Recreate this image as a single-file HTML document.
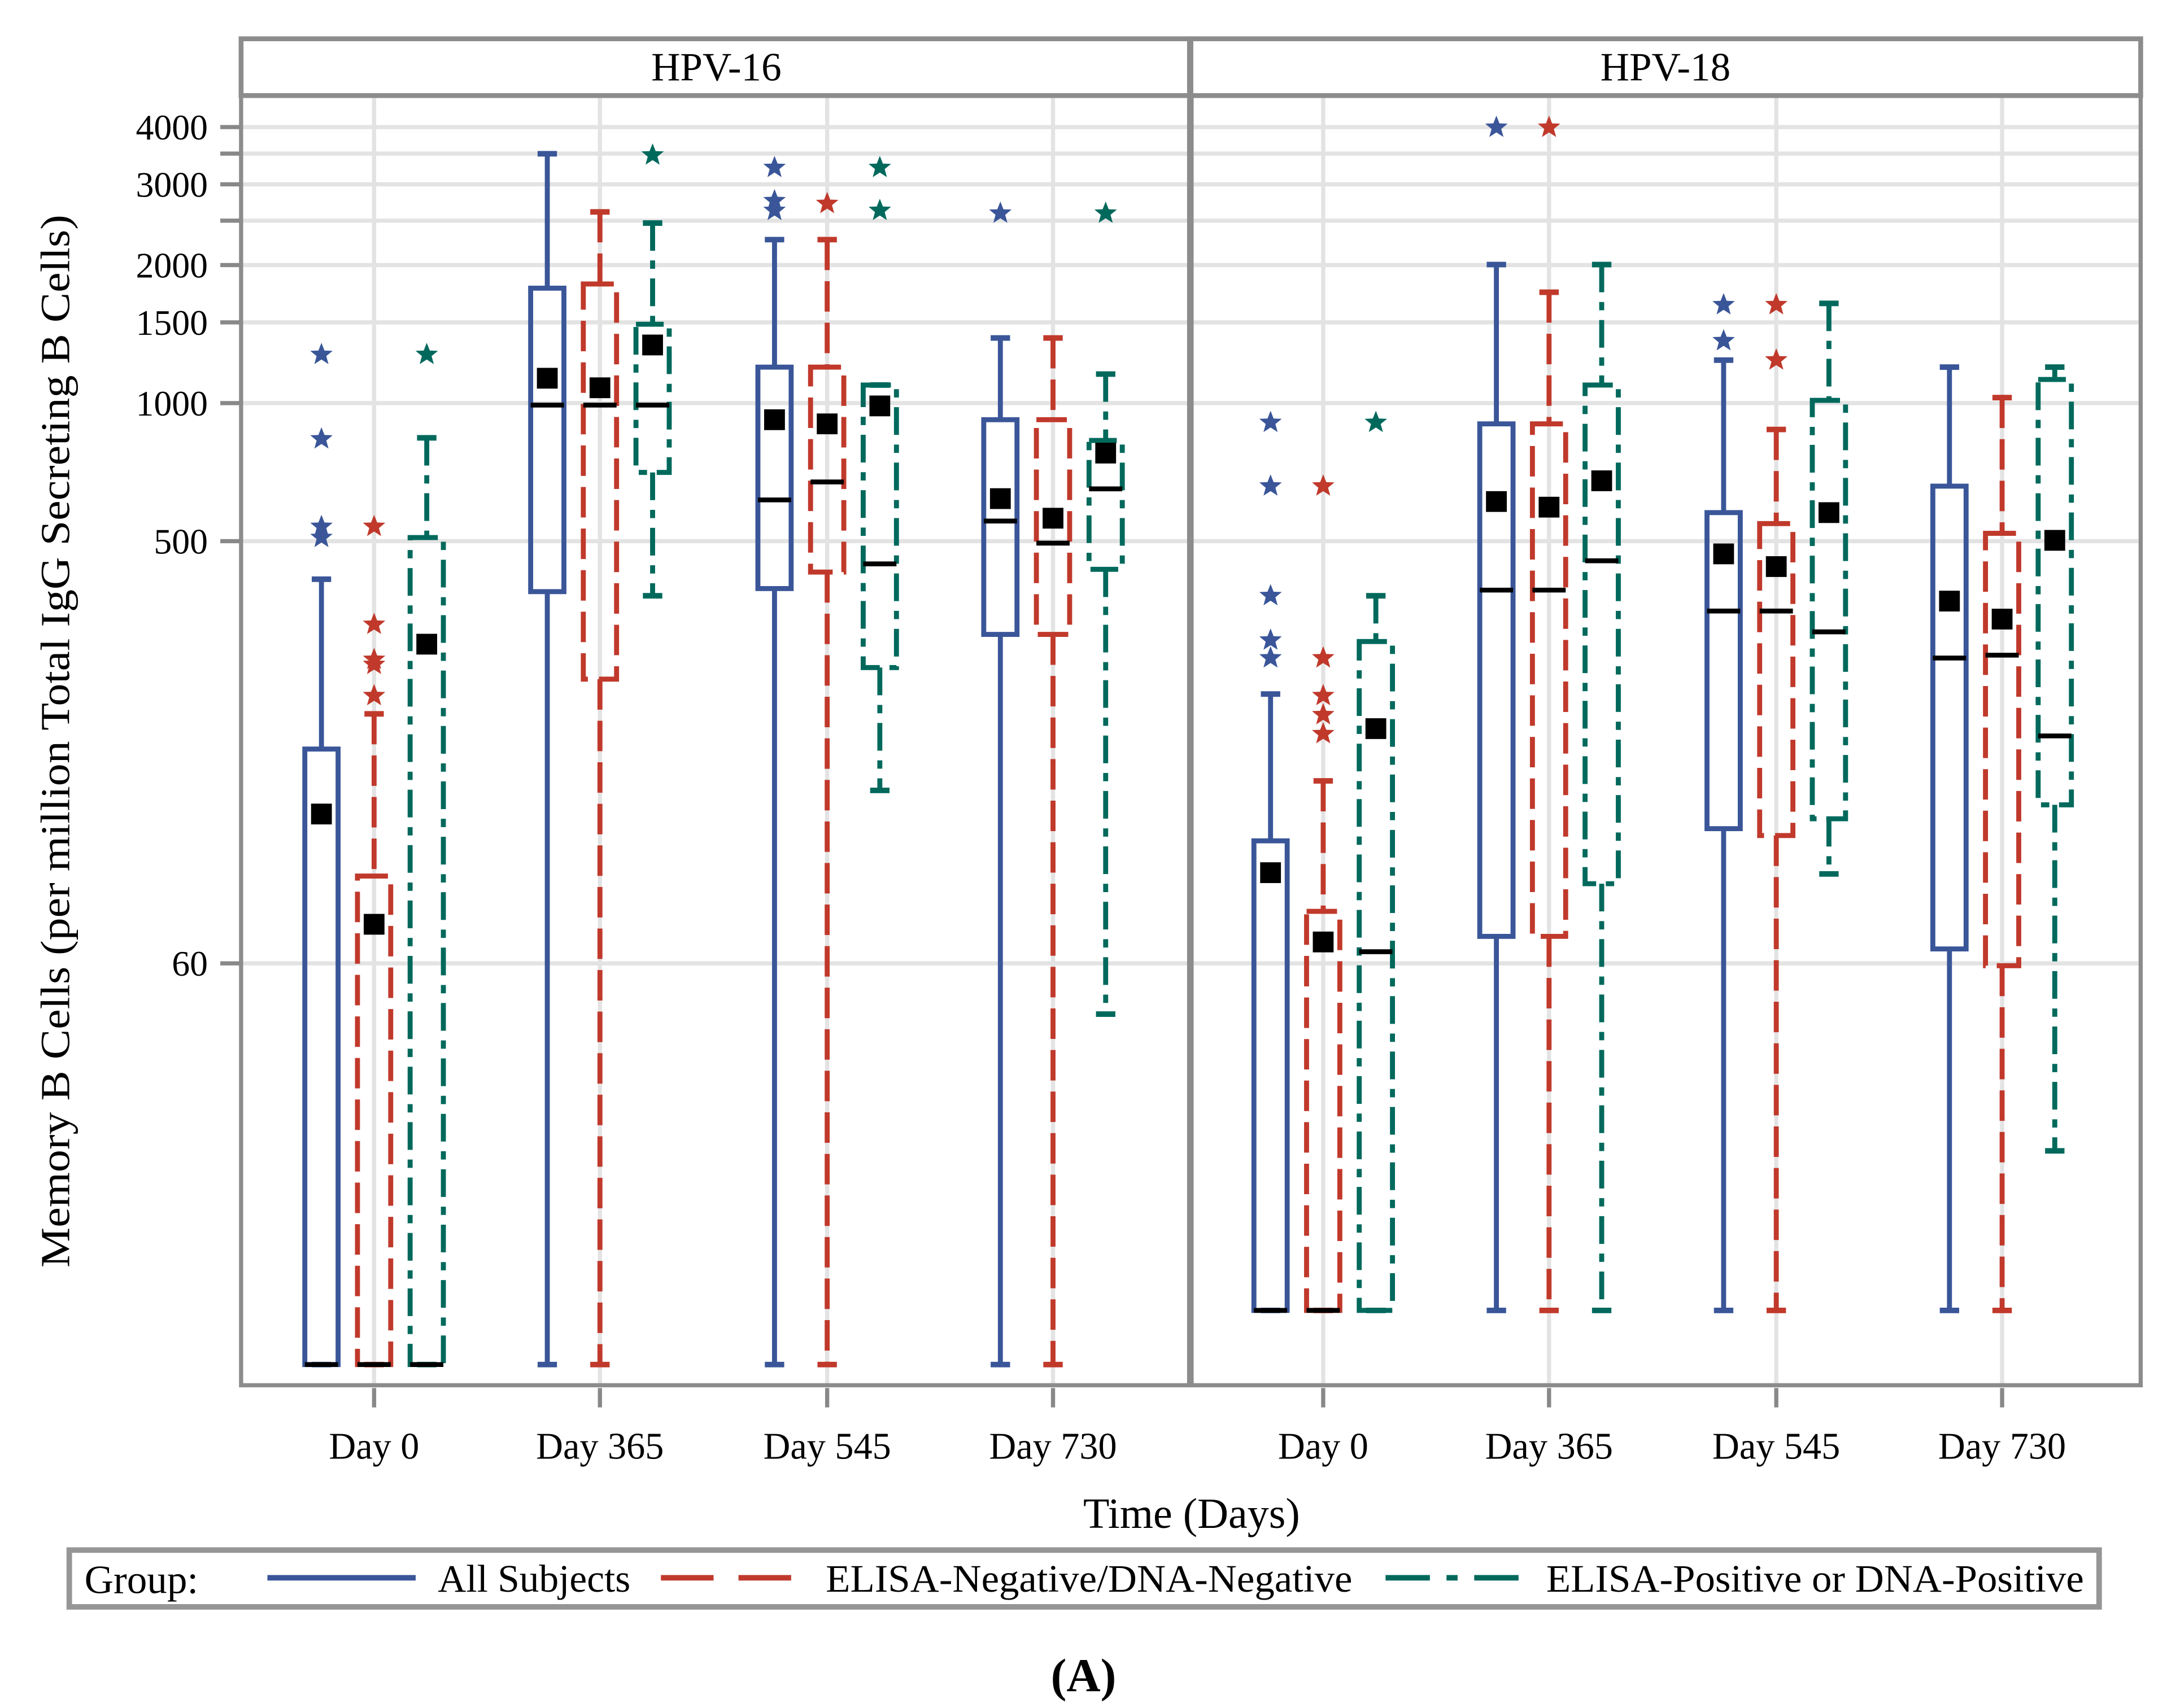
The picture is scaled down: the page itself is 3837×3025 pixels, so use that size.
<!DOCTYPE html>
<html><head><meta charset="utf-8"><style>
html,body{margin:0;padding:0;background:#fff}
svg{display:block}
text{font-family:"Liberation Serif",serif;fill:#000}
</style></head><body>
<svg id="chart" width="3837" height="3025" viewBox="0 0 1564 1233" preserveAspectRatio="none" xmlns="http://www.w3.org/2000/svg"></svg>
<script>
// ---- data (order: HPV-16 days 0,365,545,730 x groups All/Neg/Pos; then HPV-18) ----
const panels = ["HPV-16", "HPV-18"];
const days = ["Day 0", "Day 365", "Day 545", "Day 730"];
const groups = ["All Subjects", "ELISA-Negative/DNA-Negative", "ELISA-Positive or DNA-Positive"];
const yTickValues = [60, 500, 1000, 1500, 2000, 2500, 3000, 3500, 4000];
const yTickLabels = ["60", "500", "1000", "1500", "2000", "", "3000", "", "4000"];
const whiskerHigh = [413,210,840, 3498,2612,2470, 2273,2273,1095, 1387,1387,1157,
                     232,150,380, 2005,1745,2005, 1241,876,1650, 1198,1028,1198];
const q3Vals = [176,93,509, 1781,1819,1486, 1198,1198,1095, 920,920,829,
                111,77.9,302, 901,901,1095, 577,546,1014, 659,520,1126];
const medianVals = [8,8,8, 990,990,990, 615,673,446, 553,495,650,
                    10.5,10.5,63.6, 391,391,453, 352,352,317, 278,282,188];
const q1Vals = [8,8,8, 388,250,706, 394,428,265, 313,313,434,
                10.5,10.5,10.5, 68.7,68.7,89.5, 118,114,124, 64.5,59.3,133];
const whiskerLow = [8,8,8, 8,8,380, 8,8,143, 8,8,46.5,
                    10.5,10.5,10.5, 10.5,10.5,10.5, 10.5,10.5,94, 10.5,10.5,23.4];
const meanVals = [127,73,298, 1133,1080,1339, 920,901,986, 619,561,778,
                  94.6,66.8,195, 610,593,677, 469,440,577, 370,338,502];
const outlierVals = [[1276,835,538,509],[538,329,276,269,230],[1276],
                     [],[],[3474],
                     [3263,2762,2630],[2723],[3263,2630],
                     [2594],[],[2594],
                     [907,659,380,304,278],[659,278,230,209,190],[907],
                     [3993],[3993],[],
                     [1638,1367],[1638,1241],[],
                     [],[],[]];

// ---- layout ----
const NS = "http://www.w3.org/2000/svg";
const svg = document.getElementById("chart");
const colors = ["#3a5699", "#c0392b", "#00695c"];
const dashes = ["", "22 8", "20 7 6 7"];
const panelX = [174, 859];
const panelW = 686;
const plotTop = 69, plotBottom = 1000, stripTop = 28;
const dayOffset = [96, 259, 423, 586];
const groupOffset = [-38, 0, 38];
function yScale(v){ return 291 - 331*Math.log10(v/1000); }
function xScale(p, d, g){ return panelX[p] + dayOffset[d] + groupOffset[g]; }

function el(tag, attrs, parent){
  const e = document.createElementNS(NS, tag);
  for (const k in attrs) e.setAttribute(k, attrs[k]);
  (parent||svg).appendChild(e);
  return e;
}

panels.forEach((name, p) => {
  const g = el("g", {});
  
  
  yTickValues.forEach(v => {
    const gl = el("line", {x1: panelX[p], x2: panelX[p]+panelW, y1: yScale(v), y2: yScale(v), stroke: "#e3e3e3", "stroke-width": 3}, g);
    
    
  });
  days.forEach((d, i) => {
    const x = panelX[p] + dayOffset[i];
    const gl = el("line", {x1: x, x2: x, y1: plotTop, y2: plotBottom, stroke: "#e3e3e3", "stroke-width": 3}, g);
    
    
    const tk = el("line", {x1: x, x2: x, y1: plotBottom+2, y2: plotBottom+16, stroke: "#888", "stroke-width": 3}, g);
    
    
    const t = el("text", {x: x, y: 1053, "text-anchor": "middle", "font-size": 27}, g);
    t.textContent = d;
    
    
  });
  const strip = el("rect", {x: panelX[p], y: stripTop, width: panelW, height: plotTop-stripTop, fill: "#fff", stroke: "#8c8c8c", "stroke-width": 3.5}, g);
  
  
  const st = el("text", {x: panelX[p]+panelW/2, y: 58, "text-anchor": "middle", "font-size": 29}, g);
  st.textContent = name;
  
  
});

const star = "M0,-8.5 L2.2,-2.9 L8.1,-2.7 L3.5,1.1 L5.1,6.9 L0,3.6 L-5.1,6.9 L-3.5,1.1 L-8.1,-2.7 L-2.2,-2.9 Z";
for (let i = 0; i < 24; i++){
  const p = Math.floor(i/12), d = Math.floor((i%12)/3), gi = i%3;
  const x = xScale(p, d, gi);
  const c = colors[gi];
  const g = el("g", {});
  
  
  const sa = {stroke: c, "stroke-width": 3.6, fill: "none"};
  if (dashes[gi]) sa["stroke-dasharray"] = dashes[gi];
  const yq1 = yScale(q1Vals[i]), yq3 = yScale(q3Vals[i]);
  el("line", Object.assign({x1: x, x2: x, y1: yScale(whiskerHigh[i]), y2: yq3}, sa), g);
  el("line", Object.assign({x1: x, x2: x, y1: yq1, y2: yScale(whiskerLow[i])}, sa), g);
  el("line", {x1: x-7, x2: x+7, y1: yScale(whiskerHigh[i]), y2: yScale(whiskerHigh[i]), stroke: c, "stroke-width": 4}, g);
  el("line", {x1: x-7, x2: x+7, y1: yScale(whiskerLow[i]), y2: yScale(whiskerLow[i]), stroke: c, "stroke-width": 4}, g);
  el("rect", Object.assign({x: x-12, y: yq3, width: 24, height: Math.max(yq1-yq3, 0.1)}, sa), g);
  const med = el("line", {x1: x-12, x2: x+12, y1: yScale(medianVals[i]), y2: yScale(medianVals[i]), stroke: "#000", "stroke-width": 3.5}, g);
  
  
  const mn = el("rect", {x: x-7.5, y: yScale(meanVals[i])-7.5, width: 15, height: 15, fill: "#000"}, g);
  
  
  outlierVals[i].forEach(v => {
    const s = el("path", {d: star, transform: "translate(" + x + "," + yScale(v) + ")", fill: c}, g);
    
    
  });
}

panels.forEach((name, p) => {
  const b = el("rect", {x: panelX[p], y: plotTop, width: panelW, height: plotBottom-plotTop, fill: "none", stroke: "#8c8c8c", "stroke-width": 3});
  
  
});
const divl = el("line", {x1: 859, x2: 859, y1: stripTop, y2: plotBottom, stroke: "#8c8c8c", "stroke-width": 4.5});



yTickValues.forEach((v, k) => {
  const tk = el("line", {x1: 159, x2: 173, y1: yScale(v), y2: yScale(v), stroke: "#888", "stroke-width": 3});
  
  
  if (yTickLabels[k]) {
    const t = el("text", {x: 150, y: yScale(v)+9, "text-anchor": "end", "font-size": 26});
    t.textContent = yTickLabels[k];
    
    
  }
});
const yt = el("text", {x: 0, y: 0, transform: "translate(50,535) rotate(-90)", "text-anchor": "middle", "font-size": 30, textLength: 760, lengthAdjust: "spacingAndGlyphs"});
yt.textContent = "Memory B Cells (per million Total IgG Secreting B Cells)";


const xt = el("text", {x: 860, y: 1103, "text-anchor": "middle", "font-size": 31});
xt.textContent = "Time (Days)";



const lg = el("g", {});


const lb = el("rect", {x: 50, y: 1119, width: 1465, height: 41, fill: "#fff", stroke: "#969696", "stroke-width": 4}, lg);


const lt = el("text", {x: 61, y: 1150, "font-size": 29}, lg);
lt.textContent = "Group:";


const legLine = [[193,300],[477,571],[1000,1102]];
const legText = [[316,139],[596,380],[1116,388]];
groups.forEach((name, gi) => {
  const a = {x1: legLine[gi][0], x2: legLine[gi][1], y1: 1139, y2: 1139, stroke: colors[gi], "stroke-width": 4};
  if (gi === 1) a["stroke-dasharray"] = "38 18";
  if (gi === 2) a["stroke-dasharray"] = "32 12 8 12";
  const ln = el("line", a, lg);
  
  
  const t = el("text", {x: legText[gi][0], y: 1149, "font-size": 28, textLength: legText[gi][1], lengthAdjust: "spacingAndGlyphs"}, lg);
  t.textContent = name;
  
  
});
const cap = el("text", {x: 782, y: 1221, "text-anchor": "middle", "font-size": 34, "font-weight": "bold"});
cap.textContent = "(A)";


</script>
</body></html>
